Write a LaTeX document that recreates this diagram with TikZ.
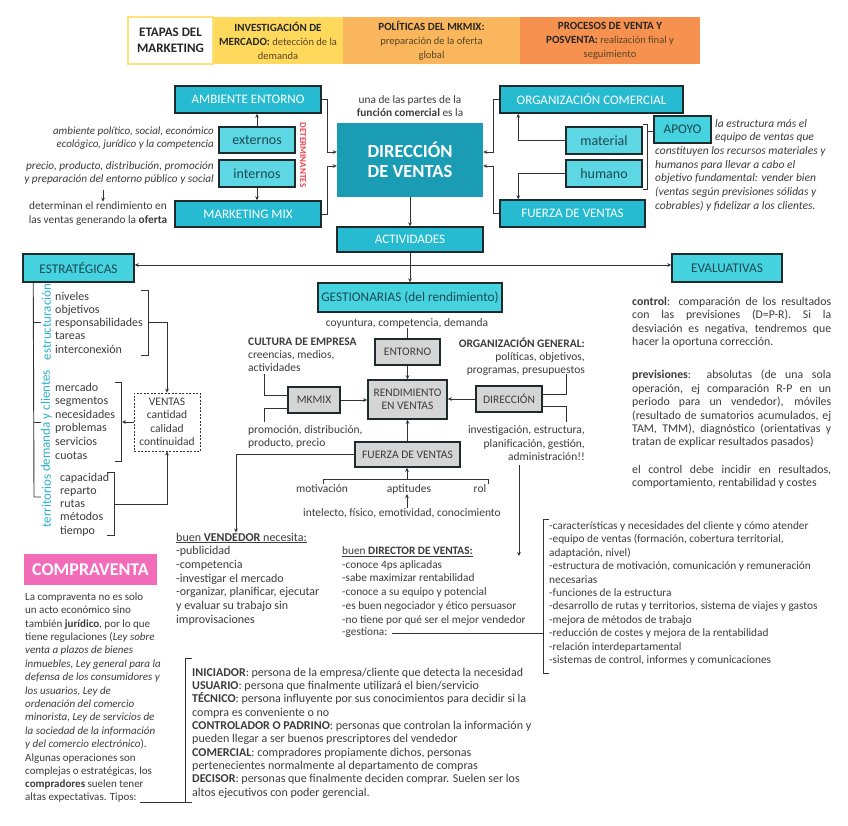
\documentclass[tikz,border=0pt]{standalone}
\usepackage{fontspec}
\setmainfont{Carlito}
\usetikzlibrary{arrows.meta}
\definecolor{cyA}{HTML}{27BBD2}
\definecolor{cyL}{HTML}{5CD7E3}
\definecolor{cyB}{HTML}{45D3E0}
\definecolor{tealD}{HTML}{1A9DB4}
\definecolor{bordc}{HTML}{1E2A2C}
\definecolor{grayf}{HTML}{D5D5D5}
\definecolor{txtc}{HTML}{3C3C3C}
\definecolor{boxtxt}{HTML}{1C4A50}
\definecolor{linec}{HTML}{333333}
\definecolor{yel}{HTML}{FFD95C}
\definecolor{or1}{HTML}{F9B65C}
\definecolor{or2}{HTML}{F6914F}
\definecolor{yelb}{HTML}{FFE17A}
\definecolor{hdtxt}{HTML}{5A4424}
\definecolor{pinkc}{HTML}{F26CBA}
\definecolor{vlab}{HTML}{2BB0CC}
\definecolor{redc}{HTML}{E8464F}
\newcommand\fsz[2]{\fontsize{#1}{#2}\selectfont}
\newcommand\hdb[1]{{\fsz{11}{14}\bfseries\color{black!85}#1}}
\begin{document}
\begin{tikzpicture}[x=1pt,y=-1pt,
 mainbox/.style={draw=bordc, line width=1.5pt, fill=cyA, text=white, font=\fsz{13}{14}, inner sep=0pt},
 lightbox/.style={draw=bordc, line width=1.5pt, fill=cyL, text=boxtxt, font=\fsz{14}{15}, inner sep=0pt},
 brbox/.style={draw=bordc, line width=1.5pt, fill=cyB, text=boxtxt, font=\fsz{13.3}{15}, inner sep=0pt},
 graybox/.style={draw=bordc, line width=1.6pt, fill=grayf, text=txtc, font=\fsz{11.5}{13}, inner sep=0pt, align=center},
 hbox/.style={minimum height=47pt, inner sep=0pt, align=center, font=\fsz{10.5}{14}, text=hdtxt},
 tx/.style={inner sep=0pt, text=txtc, font=\fsz{11}{13.4}, align=left},
 conn/.style={draw=linec, line width=0.9pt},
 arr/.style={conn, -{Stealth[length=4pt,width=3.6pt]}},
 arrb/.style={conn, {Stealth[length=4pt,width=3.6pt]}-{Stealth[length=4pt,width=3.6pt]}},
 vlabel/.style={rotate=90, text=vlab, font=\fsz{13}{14}, inner sep=0pt}]
\useasboundingbox (0,0) rectangle (848,826);
\fill[white] (0,0) rectangle (848,826);

% header
\node[hbox, fill=yel, minimum width=130pt] (h2) at (278,40.5) {\hdb{INVESTIGACIÓN DE}\\\hdb{MERCADO:} detección de la\\demanda};
\node[hbox, fill=or1, minimum width=177pt] (h3) at (431.5,40.5) {\hdb{POLÍTICAS DEL MKMIX:}\\preparación de la oferta\\global};
\node[hbox, fill=or2, minimum width=180pt] (h4) at (610,40.5) {\hdb{PROCESOS DE VENTA Y}\\\hdb{POSVENTA:} realización final y\\seguimiento};
\node[hbox, draw=yelb, line width=1.8pt, fill=white, minimum width=85pt, font=\bfseries\fsz{13}{16}, text=black!85] (h1) at (170.5,40.5) {ETAPAS DEL\\MARKETING};

% top left
\node[mainbox, minimum width=146pt, minimum height=27pt] (amb) at (248,99.5) {AMBIENTE ENTORNO};
\node[lightbox, minimum width=76pt, minimum height=26pt] (ext) at (257,140) {externos};
\node[lightbox, minimum width=76pt, minimum height=27pt] (int) at (257,173.5) {internos};
\node[mainbox, minimum width=146pt, minimum height=26pt] (mkm) at (248,214) {MARKETING MIX};
\draw[arr] (ext.north) -- (ext.north |- amb.south);
\draw[arr] (int.south) -- (int.south |- mkm.north);
\node[tx, align=right, anchor=east, font=\itshape\fsz{11}{13.4}] (ambt) at (214,138) {ambiente político, social, económico\\ecológico, jurídico y la competencia};
\node[tx, align=right, anchor=east, font=\itshape\fsz{11.3}{13.4}] (prt) at (214,173) {precio, producto, distribución, promoción\\y preparación del entorno público y social};
\node[tx, align=center, font=\fsz{11.3}{13.4}] (det) at (98,213.5) {determinan el rendimiento en\\las ventas generando la \textbf{oferta}};
\coordinate (sa) at (103,190);
\draw[arr] (sa) -- (sa |- det.north);
\node[rotate=-90, text=redc, font=\bfseries\fsz{9}{10}, inner sep=0pt] (detm) at (303,155) {DETERMINANTES};

% centre top
\node[fill=tealD, text=white, font=\bfseries\fsz{18.5}{19.5}, minimum width=146pt, minimum height=74pt, inner sep=0pt, align=center] (dv) at (410,160) {DIRECCIÓN\\DE VENTAS};
\node[tx, align=center, font=\fsz{11.3}{13.4}] (fun) at (410,106) {una de las partes de la\\\textbf{función comercial} es la};
\node[mainbox, minimum width=146pt, minimum height=25pt] (act) at (410,239.5) {ACTIVIDADES};
\draw[arr] (dv) -- (act);
\draw[arr] (amb.east) -- ++(6,0) |- ([yshift=8pt]dv.west);
\draw[arr] (mkm.east) -- ++(6,0) |- ([yshift=-6pt]dv.west);

% top right
\node[mainbox, minimum width=183pt, minimum height=27pt] (org) at (591.5,99.5) {ORGANIZACIÓN COMERCIAL};
\node[mainbox, minimum width=145pt, minimum height=27pt] (fv) at (572.5,213.5) {FUERZA DE VENTAS};
\node[lightbox, minimum width=76pt, minimum height=27pt] (mat) at (604,140.5) {material};
\node[lightbox, minimum width=76pt, minimum height=27pt] (hum) at (604,173.5) {humano};
\draw[arr] (org.west) -- ++(-6,0) |- ([yshift=8pt]dv.east);
\draw[arr] (fv.west) -- ++(-6,0) |- ([yshift=-6pt]dv.east);
\draw[arr] (mat.west) -| ([xshift=19pt]org.south west);
\draw[arr] (hum.west) -| ([xshift=19pt]fv.north west);
\node[brbox, minimum width=57pt, minimum height=27pt] (apo) at (682.5,129.5) {APOYO};
\coordinate (brt) at (647,131);
\draw[conn] (643,124) -- (647,124) -- (647,189) -- (643,189);
\draw[conn] (brt) -- (brt -| apo.west);
\node[tx, anchor=north west, font=\itshape\fsz{11.5}{13.6}] (ap1) at (715,119) {la estructura más el\\equipo de ventas que};
\node[tx, anchor=north west, font=\itshape\fsz{11.5}{13.6}] (ap2) at (655,146.5) {constituyen los recursos materiales y\\humanos para llevar a cabo el\\objetivo fundamental: vender bien\\(ventas según previsiones sólidas y\\cobrables) y fidelizar a los clientes.};

% second level
\node[brbox, minimum width=111pt, minimum height=28pt] (est) at (78.5,268) {ESTRATÉGICAS};
\node[brbox, minimum width=110pt, minimum height=28pt] (eva) at (727,268) {EVALUATIVAS};
\node[brbox, minimum width=184pt, minimum height=29pt] (gest) at (410,297.5) {GESTIONARIAS (del rendimiento)};
\draw[arrb] ([yshift=3pt]est.east) -- ([yshift=3pt]eva.west);
\draw[arr] (act.south) -- (gest.north);

% left column
\draw[conn] ([xshift=11pt]est.south west) -- (34,497) -- (41,497);
\draw[conn] (34,322) -- (41,322);
\draw[conn] (34,422) -- (41,422);
\node[vlabel] (vl1) at (46.5,322) {estructuración};
\node[vlabel] (vl2) at (46.5,421) {demanda y clientes};
\node[vlabel] (vl3) at (46.5,501) {territorios};
\node[tx, anchor=north west, font=\fsz{12}{13.3}] (l1) at (55,291.5) {niveles\\objetivos\\responsabilidades\\tareas\\interconexión};
\node[tx, anchor=north west, font=\fsz{12}{13.6}] (l2) at (55,382.5) {mercado\\segmentos\\necesidades\\problemas\\servicios\\cuotas};
\node[tx, anchor=north west, font=\fsz{12}{13.3}] (l3) at (60,472.5) {capacidad\\reparto\\rutas\\métodos\\tiempo};
\node[draw=linec, dash pattern=on 2pt off 1.5pt, line width=0.8pt, minimum width=66pt, minimum height=58pt, inner sep=0pt, align=center, text=txtc, font=\fsz{11.5}{13.4}] (ven) at (167,422) {VENTAS\\cantidad\\calidad\\continuidad};
\draw[conn] (141,290) -- (148,290) -- (148,355) -- (141,355);
\draw[arr] (148,322) -| (ven.north);
\draw[conn] (115,382) -- (121,382) -- (121,461) -- (115,461);
\draw[arr] (ven.west) -- (122,422);
\draw[conn] (107,472) -- (114,472) -- (114,535) -- (107,535);
\draw[arr] (114,504) -| (ven.south);

% centre
\node[tx, font=\fsz{11.5}{13.4}] (coy) at (407,323) {coyuntura, competencia, demanda};
\node[graybox, minimum width=65pt, minimum height=26pt] (ent) at (407.5,352) {ENTORNO};
\draw[conn] (ent.north |- coy.south) -- (ent.north);
\node[graybox, minimum width=79pt, minimum height=39pt] (rend) at (407.5,399.5) {RENDIMIENTO\\EN VENTAS};
\draw[arr] (ent) -- (rend);
\node[tx, anchor=north west, font=\fsz{11.5}{13}] (cult) at (248,337.5) {\textbf{CULTURA DE EMPRESA}\\creencias, medios,\\actividades};
\node[graybox, minimum width=52pt, minimum height=26pt] (mkx) at (314,400) {MKMIX};
\coordinate (c1) at (264,374);
\coordinate (c2) at (264,422);
\draw[conn] (c1) |- ([yshift=5pt]mkx.west);
\draw[conn] ([yshift=-8pt]mkx.west) -| (c2);
\node[tx, anchor=north west, font=\fsz{11.5}{13}] (prom) at (248,425.5) {promoción, distribución,\\producto, precio};
\draw[arr] (mkx.east) -- (rend.west |- mkx.east);
\node[tx, anchor=north east, align=right, font=\fsz{11.5}{13}] (og) at (585,337.5) {\textbf{ORGANIZACIÓN GENERAL:}\\políticas, objetivos,\\programas, presupuestos};
\node[graybox, minimum width=66pt, minimum height=26pt] (dir) at (509,399) {DIRECCIÓN};
\draw[arr] (dir.west) -- (rend.east |- dir.west);
\coordinate (c3) at (566,374);
\coordinate (c4) at (566,422);
\draw[conn] (c3) |- ([yshift=5pt]dir.east);
\draw[conn] ([yshift=-7pt]dir.east) -| (c4);
\node[tx, anchor=north east, align=right, font=\fsz{11.5}{13.4}] (inv) at (585,425.5) {investigación, estructura,\\planificación, gestión,\\administración!!};
\node[graybox, minimum width=105pt, minimum height=25pt] (fdv) at (407.5,454.5) {FUERZA DE VENTAS};
\draw[arr] (fdv.north) -- (rend.south);
\coordinate (b4) at (407,479);
\draw[conn] (323,484) -- (323,479) -- (488,479) -- (488,484);
\draw[arr] (b4) -- (b4 |- fdv.south);
\node[tx, font=\fsz{11.5}{13}] (mot) at (322,489) {motivación};
\node[tx, font=\fsz{11.5}{13}] (apt) at (409,489) {aptitudes};
\node[tx, font=\fsz{11.5}{13}] (rol) at (480,489) {rol};
\node[tx, font=\fsz{11.5}{13}] (intel) at (402,513) {intelecto, físico, emotividad, conocimiento};
\draw[arr] (intel.north -| b4) -- (apt.south -| b4);
\coordinate (c5) at (519,465);
\coordinate (c6) at (519,556);
\draw[arr] (c5) -- (c6);

% vendedor / director
\node[tx, anchor=north west, font=\fsz{12}{13.7}] (vend) at (176,532.5) {\underline{buen \textbf{VENDEDOR} necesita:}\\-publicidad\\-competencia\\-investigar el mercado\\-organizar, planificar, ejecutar\\y evaluar su trabajo sin\\improvisaciones};
\draw[arr] (fdv.west) -| ([xshift=60pt]vend.north west);
\node[tx, anchor=north west, font=\fsz{11.3}{13.7}] (dirv) at (342,546.5) {\underline{buen \textbf{DIRECTOR DE VENTAS:}}\\-conoce 4ps aplicadas\\-sabe maximizar rentabilidad\\-conoce a su equipo y potencial\\-es buen negociador y ético persuasor\\-no tiene por qué ser el mejor vendedor};
\node[tx, anchor=west, font=\fsz{11.3}{13.7}] (gtn) at (342,633) {-gestiona:};
\coordinate (rb) at (543,633);
\draw[conn] ([xshift=4pt]gtn.east) -- (rb);
\draw[conn] (549,519) -- (543,519) -- (543,673) -- (549,673);
\node[tx, anchor=north west, font=\fsz{11.3}{13.4}] (rl) at (549,521.5) {-características y necesidades del cliente y cómo atender\\-equipo de ventas (formación, cobertura territorial,\\adaptación, nivel)\\-estructura de motivación, comunicación y remuneración\\necesarias\\-funciones de la estructura\\-desarrollo de rutas y territorios, sistema de viajes y gastos\\-mejora de métodos de trabajo\\-reducción de costes y mejora de la rentabilidad\\-relación interdepartamental\\-sistemas de control, informes y comunicaciones};

% evaluativas text
\node[tx, anchor=north west, font=\fsz{11.8}{13.3}] (ev1) at (632,297) {\makebox[199pt][s]{\textbf{control}: comparación de los resultados}\\\makebox[199pt][s]{con las previsiones (D=P-R). Si la}\\\makebox[199pt][s]{desviación es negativa, tendremos que}\\hacer la oportuna corrección.};
\node[tx, anchor=north west, font=\fsz{11.8}{13.4}] (ev2) at (632,370) {\makebox[199pt][s]{\textbf{previsiones}: absolutas (de una sola}\\\makebox[199pt][s]{operación, ej comparación R-P en un}\\\makebox[199pt][s]{periodo para un vendedor), móviles}\\\makebox[199pt][s]{(resultado de sumatorios acumulados, ej}\\\makebox[199pt][s]{TAM, TMM), diagnóstico (orientativas y}\\tratan de explicar resultados pasados)};
\node[tx, anchor=north west, font=\fsz{11.8}{13.3}] (ev3) at (632,465) {\makebox[199pt][s]{el control debe incidir en resultados,}\\comportamiento, rentabilidad y costes};

% compraventa
\node[fill=pinkc, text=white, font=\bfseries\fsz{18}{19}, minimum width=133pt, minimum height=31pt, inner sep=0pt] (cv) at (90.5,569.5) {COMPRAVENTA};
\node[tx, anchor=north west] (cvt) at (25,592.5) {La compraventa no es solo\\un acto económico sino\\también \textbf{jurídico}, por lo que\\tiene regulaciones (\textit{Ley sobre}\\\textit{venta a plazos de bienes}\\\textit{inmuebles, Ley general para la}\\\textit{defensa de los consumidores y}\\\textit{los usuarios, Ley de}\\\textit{ordenación del comercio}\\\textit{minorista, Ley de servicios de}\\\textit{la sociedad de la información}\\\textit{y del comercio electrónico}).\\Algunas operaciones son\\complejas o estratégicas, los\\\textbf{compradores} suelen tener};
\node[tx, anchor=west] (tip) at (25,798) {altas expectativas. Tipos:};
\coordinate (bb) at (185,802);
\draw[conn] ([xshift=3pt]tip.east |- bb) -- (bb);
\draw[conn] (192,658) -- (185,658) -- (185,802) -- (192,802);
\node[tx, anchor=north west, font=\fsz{12}{13.35}] (bl) at (192,667.5) {\textbf{INICIADOR}: persona de la empresa/cliente que detecta la necesidad\\\textbf{USUARIO}: persona que finalmente utilizará el bien/servicio\\\textbf{TÉCNICO}: persona influyente por sus conocimientos para decidir si la\\compra es conveniente o no\\\textbf{CONTROLADOR O PADRINO}: personas que controlan la información y\\pueden llegar a ser buenos prescriptores del vendedor\\\textbf{COMERCIAL}: compradores propiamente dichos, personas\\pertenecientes normalmente al departamento de compras\\\textbf{DECISOR}: personas que finalmente deciden comprar. Suelen ser los\\altos ejecutivos con poder gerencial.};
\end{tikzpicture}
\end{document}
